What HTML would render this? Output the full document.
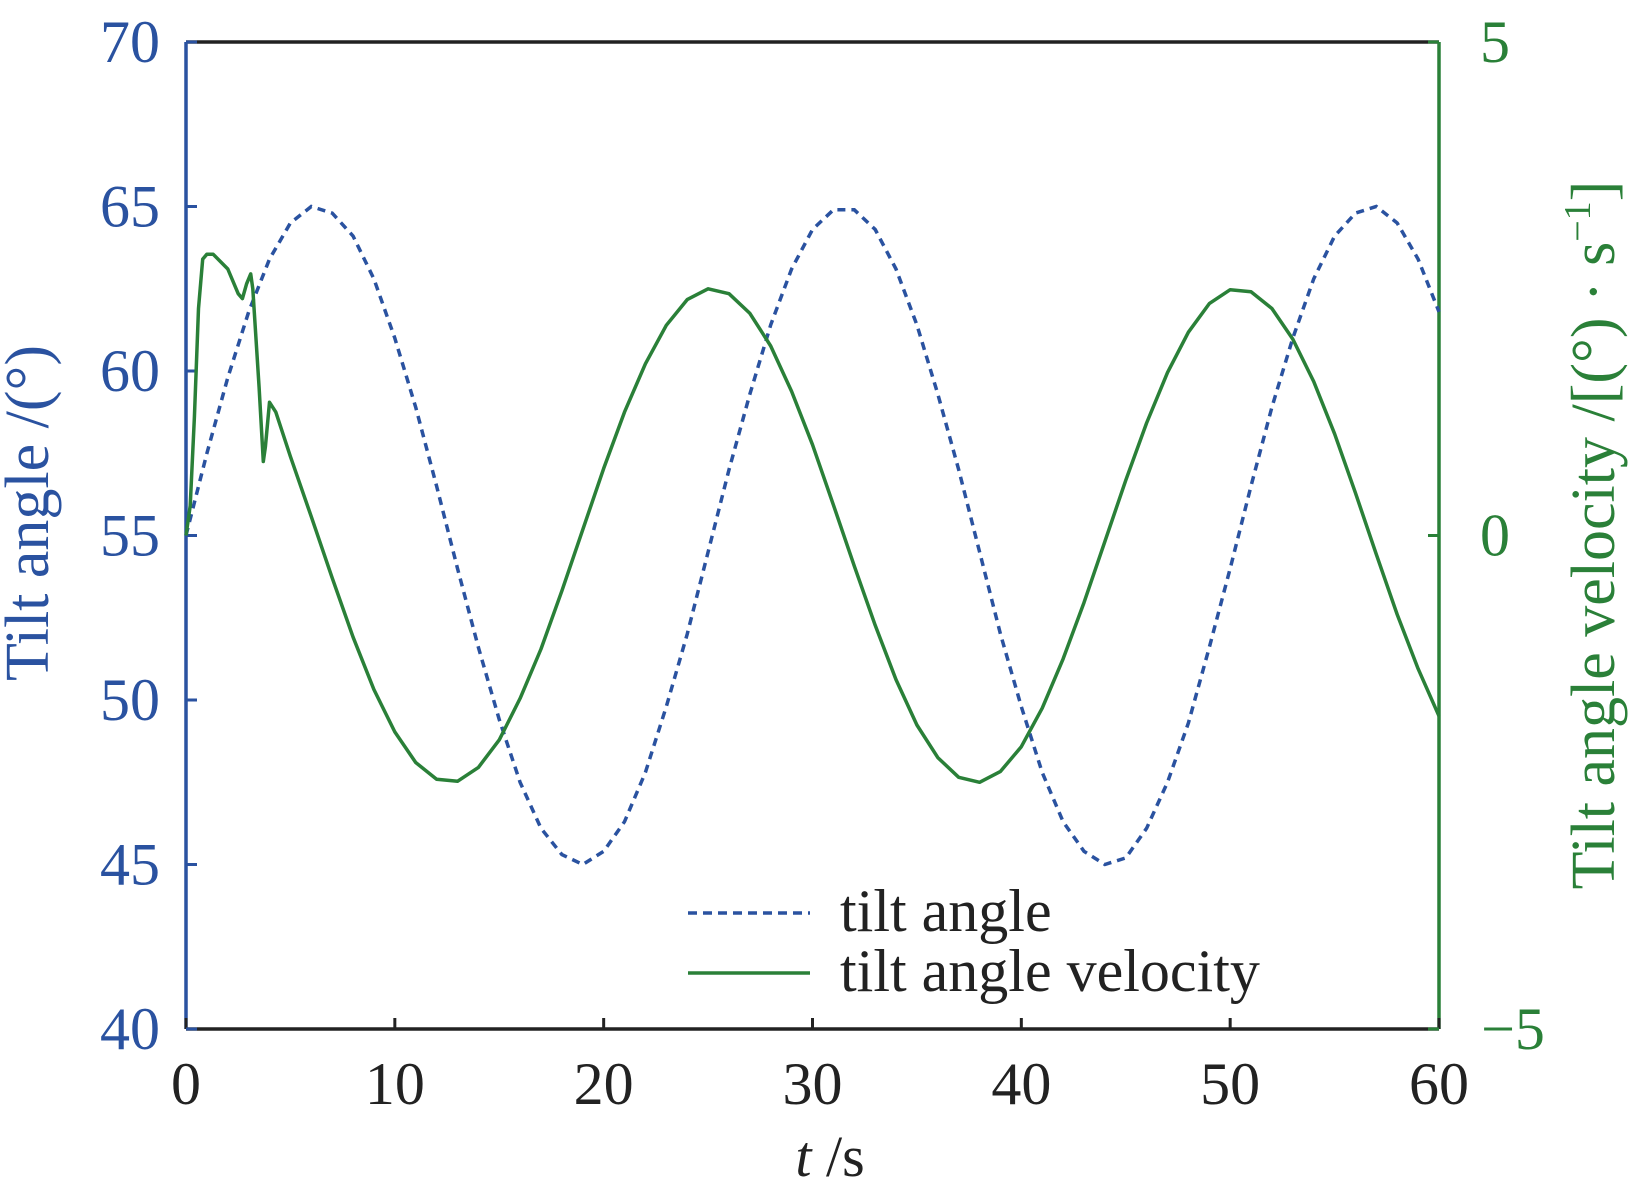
<!DOCTYPE html>
<html><head><meta charset="utf-8"><style>
html,body{margin:0;padding:0;background:#fff}
svg text{font-family:"Liberation Serif",serif}
</style></head><body>
<svg id="chart" width="1632" height="1184" viewBox="0 0 1632 1184" xmlns="http://www.w3.org/2000/svg">
<g id="axes"></g>
<g id="series"></g>
<text x="830" y="1176" font-size="58" text-anchor="middle" fill="#222"><tspan font-style="italic">t</tspan> /s</text>
<text transform="translate(48,513) rotate(-90)" font-size="62" text-anchor="middle" fill="#2a52a0">Tilt angle /(°)</text>
<text transform="translate(1614,535) rotate(-90)" font-size="62" text-anchor="middle" fill="#2a8038">Tilt angle velocity /[(°) · s<tspan font-size="38" dy="-24">−1</tspan><tspan dy="24">]</tspan></text>
<g>
<line x1="688" y1="913" x2="810" y2="913" stroke="#2a52a0" stroke-width="3.5" stroke-dasharray="9,6"/>
<text x="840" y="931" font-size="60" fill="#222">tilt angle</text>
<line x1="688" y1="973" x2="810" y2="973" stroke="#2a8038" stroke-width="3.5"/>
<text x="840" y="991" font-size="60" fill="#222">tilt angle velocity</text>
</g>
</svg>
<script>
const tiltT=[0,1,2,3,4,5,6,7,8,9,10,11,12,13,14,15,16,17,18,19,20,21,22,23,24,25,26,27,28,29,30,31,32,33,34,35,36,37,38,39,40,41,42,43,44,45,46,47,48,49,50,51,52,53,54,55,56,57,58,59,60];
const tiltV=[55.0,57.5,59.8,61.8,63.4,64.5,65.0,64.8,64.1,62.8,61.0,58.9,56.5,54.0,51.6,49.4,47.5,46.1,45.3,45.0,45.4,46.3,47.8,49.8,52.0,54.5,57.0,59.3,61.4,63.1,64.3,64.9,64.9,64.3,63.1,61.4,59.3,57.0,54.5,52.0,49.8,47.8,46.3,45.4,45.0,45.2,46.1,47.5,49.3,51.6,54.0,56.5,58.9,61.0,62.8,64.1,64.8,65.0,64.5,63.4,61.8];
const velT=[0,0.2,0.4,0.6,0.8,1.0,1.3,2.0,2.5,2.7,2.9,3.1,3.2,3.5,3.7,3.8,4.0,4.3,5,6,7,8,9,10,11,12,13,14,15,16,17,18,19,20,21,22,23,24,25,26,27,28,29,30,31,32,33,34,35,36,37,38,39,40,41,42,43,44,45,46,47,48,49,50,51,52,53,54,55,56,57,58,59,60];
const velV=[0,0.3,1.2,2.3,2.8,2.85,2.85,2.7,2.45,2.4,2.55,2.65,2.5,1.5,0.75,0.9,1.35,1.25,0.80,0.19,-0.43,-1.03,-1.56,-1.99,-2.30,-2.47,-2.49,-2.35,-2.07,-1.65,-1.15,-0.56,0.06,0.68,1.25,1.74,2.13,2.39,2.50,2.45,2.25,1.92,1.46,0.92,0.31,-0.31,-0.91,-1.46,-1.92,-2.25,-2.45,-2.50,-2.39,-2.14,-1.75,-1.25,-0.68,-0.06,0.56,1.14,1.65,2.06,2.35,2.49,2.47,2.30,1.99,1.56,1.03,0.43,-0.19,-0.80,-1.35,-1.83];
const xTicks=[0,10,20,30,40,50,60];
const leftTicks=[40,45,50,55,60,65,70];
const rightTicks=[-5,0,5];
const rightTickLabels=["−5","0","5"];

const L=186,R=1439,T=42,B=1029;
const BLUE="#2a52a0",GREEN="#2a8038",BLACK="#222";
const xs=t=>L+(t-0)/(60-0)*(R-L);
const yl=v=>B-(v-40)/(70-40)*(B-T);
const yr=v=>B-(v+5)/(10)*(B-T);
const NS="http://www.w3.org/2000/svg";
const axes=document.getElementById('axes'),series=document.getElementById('series');
function mk(tag,attrs,parent){const e=document.createElementNS(NS,tag);for(const k in attrs)e.setAttribute(k,attrs[k]);parent.appendChild(e);return e;}

let e;
e=mk('line',{x1:L,y1:T,x2:R,y2:T,stroke:BLACK,'stroke-width':3.5},axes);


e=mk('line',{x1:L,y1:B,x2:R,y2:B,stroke:BLACK,'stroke-width':3.5},axes);


e=mk('line',{x1:L,y1:T,x2:L,y2:B,stroke:BLUE,'stroke-width':3.5},axes);


e=mk('line',{x1:R,y1:T,x2:R,y2:B,stroke:GREEN,'stroke-width':3.5},axes);



xTicks.forEach(t=>{
  const x=xs(t);
  e=mk('line',{x1:x,y1:B,x2:x,y2:B-11,stroke:BLACK,'stroke-width':3},axes);
  
  
  e=mk('text',{x:x,y:1104,'font-size':60,'text-anchor':'middle',fill:BLACK},axes);
  
  
  e.textContent=t;
});
leftTicks.forEach(v=>{
  const y=yl(v);
  e=mk('line',{x1:L,y1:y,x2:L+11,y2:y,stroke:BLUE,'stroke-width':3},axes);
  
  
  e=mk('text',{x:160,y:y+20,'font-size':60,'text-anchor':'end',fill:BLUE},axes);
  
  
  e.textContent=v;
});
rightTicks.forEach((v,i)=>{
  const y=yr(v);
  e=mk('line',{x1:R,y1:y,x2:R-11,y2:y,stroke:GREEN,'stroke-width':3},axes);
  
  
  e=mk('text',{x:i===0?1513:1495,y:y+20,'font-size':60,'text-anchor':'middle',fill:GREEN},axes);
  
  
  e.textContent=rightTickLabels[i];
});

let d=tiltT.map((t,i)=>(i?'L':'M')+xs(t).toFixed(1)+','+yl(tiltV[i]).toFixed(1)).join(' ');
e=mk('path',{d:d,fill:'none',stroke:BLUE,'stroke-width':3.5,'stroke-dasharray':'8,6'},series);


d=velT.map((t,i)=>(i?'L':'M')+xs(t).toFixed(1)+','+yr(velV[i]).toFixed(1)).join(' ');
e=mk('path',{d:d,fill:'none',stroke:GREEN,'stroke-width':3.5,'stroke-linejoin':'round'},series);


</script>
</body></html>
